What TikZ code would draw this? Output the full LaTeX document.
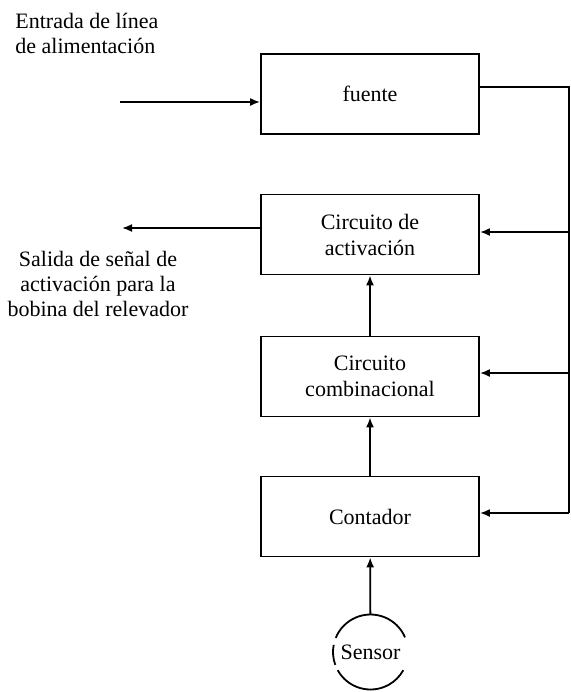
\documentclass[tikz,border=0pt]{standalone}
\usepackage{fontspec}
\setmainfont{Liberation Serif}
\usepackage{tikz}
\usetikzlibrary{positioning,arrows.meta}

\begin{document}
\begin{tikzpicture}[x=0.5pt,y=-0.5pt,
	bloque/.style={draw,line width=0.9pt,minimum width=109pt,minimum height=40pt,align=center,inner sep=0pt,font=\fontsize{11}{13}\selectfont},
	texto/.style={inner sep=0pt,font=\fontsize{11}{12.5}\selectfont},
	flecha/.style={line width=0.9pt,-{Latex[length=5pt,width=4pt]}},
	linea/.style={line width=0.9pt}]
			
			\useasboundingbox (0,0) rectangle (570,692);
			
			\node[bloque] (fuente) at (370,94) {fuente};
			\node[bloque] (activacion) at (370,234.5) {Circuito de\\activación};
			\node[bloque] (combinacional) at (370,376.5) {Circuito\\combinacional};
			\node[bloque] (contador) at (370,516.5) {Contador};
			\node[circle,minimum size=37.5pt,inner sep=0pt,outer sep=0pt,font=\fontsize{11}{13}\selectfont] (sensor) at (370.5,652) {Sensor};
			
			\node[texto,anchor=north west,align=left] (entrada) at (15,13) {Entrada de línea\\de alimentación};
			\node[texto,anchor=north,align=center] (salida) at (98,251) {Salida de señal de\\activación para la\\bobina del relevador};
			
			% sensor drawn as broken circle
			\draw[linea] (sensor.23) arc[start angle=23,end angle=158,radius=18.75pt];
			\draw[linea] (sensor.169) arc[start angle=169,end angle=200,radius=18.75pt];
			\draw[linea] (sensor.209) arc[start angle=209,end angle=331,radius=18.75pt];
			
			\coordinate (ent) at (120,102);
			\coordinate (sal) at (122,228);
			\coordinate (b0) at (569,87);
			\coordinate (b1) at (569,232);
			\coordinate (b2) at (569,373);
			\coordinate (b3) at (569,513);
			
			\draw[flecha] (ent) -- (fuente.west |- ent);
			\draw[flecha] (activacion.west |- sal) -- (sal);
			\draw[linea] (fuente.east |- b0) -- (b0) -- (b3);
			\draw[flecha] (b1) -- (activacion.east |- b1);
			\draw[flecha] (b2) -- (combinacional.east |- b2);
			\draw[flecha] (b3) -- (contador.east |- b3);
			
			\draw[flecha] (sensor) -- (contador);
			\draw[flecha] (contador) -- (combinacional);
			\draw[flecha] (combinacional) -- (activacion);
			
		\end{tikzpicture}
\end{document}
